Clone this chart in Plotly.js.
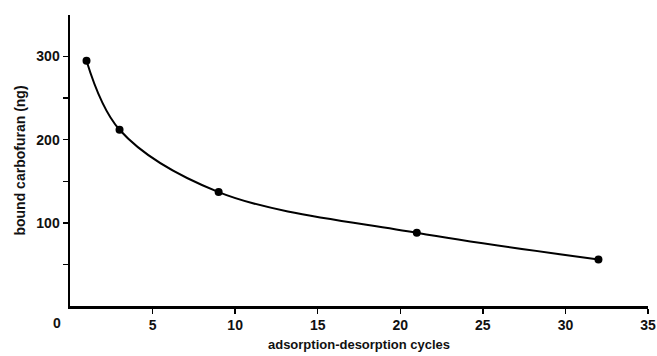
<!DOCTYPE html>
<html>
<head>
<meta charset="utf-8">
<script src="https://cdn.plot.ly/plotly-3.0.1.min.js"></script>
<style>html,body{margin:0;padding:0;background:#fff;}#chart{width:657px;height:356px;}</style>
</head>
<body>
<div id="chart"></div>
<script>
const cycles = [1, 3, 9, 21, 32];
const boundCarbofuran = [295, 212, 137, 88, 56];
const xTickVals = [5, 10, 15, 20, 25, 30, 35];
const yTickVals = [50, 100, 150, 200, 250, 300];
const yTickText = ['', '100', '', '200', '', '300'];

const font = 'Liberation Sans, Arial, sans-serif';

const trace = {
  x: cycles,
  y: boundCarbofuran,
  mode: 'lines+markers',
  type: 'scatter',
  line: {color: '#000', width: 2, shape: 'spline', smoothing: 1},
  marker: {color: '#000', size: 8, symbol: 'circle'},
  showlegend: false,
  cliponaxis: false
};

const layout = {
  width: 657,
  height: 356,
  margin: {l: 70, r: 9, t: 15, b: 50},
  paper_bgcolor: '#fff',
  plot_bgcolor: '#fff',
  font: {family: font, color: '#111'},
  xaxis: {
    range: [0, 35],
    tickvals: xTickVals,
    ticks: 'outside',
    ticklen: 5,
    tickwidth: 1.5,
    tickcolor: '#000',
    showline: true,
    linecolor: '#000',
    linewidth: 2.5,
    showgrid: false,
    zeroline: false,
    tickfont: {family: font, size: 14, color: '#111', weight: 'bold'},
    title: {text: 'adsorption-desorption cycles', font: {family: font, size: 13, color: '#111', weight: 'bold'}, standoff: 8}
  },
  yaxis: {
    range: [0, 350],
    tickvals: yTickVals,
    ticktext: yTickText,
    ticks: 'outside',
    ticklen: 5,
    tickwidth: 1.5,
    tickcolor: '#000',
    showline: true,
    linecolor: '#000',
    linewidth: 2.5,
    showgrid: false,
    zeroline: false,
    tickfont: {family: font, size: 14, color: '#111', weight: 'bold'},
    title: {text: 'bound carbofuran (ng)', font: {family: font, size: 14, color: '#111', weight: 'bold'}, standoff: 8}
  },
  annotations: [{
    xref: 'x', yref: 'paper', x: 0, y: 0, yanchor: 'top', xanchor: 'center',
    xshift: -13, yshift: -7, showarrow: false, text: '0',
    font: {family: font, size: 14, color: '#111', weight: 'bold'}
  }]
};

Plotly.newPlot('chart', [trace], layout, {displayModeBar: false, staticPlot: true});
</script>
</body>
</html>
